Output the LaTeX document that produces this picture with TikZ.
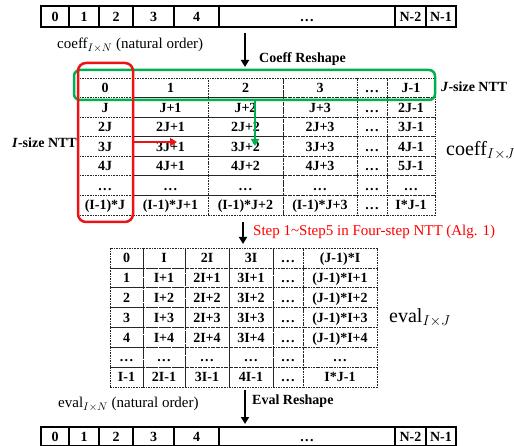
\documentclass[tikz,border=0pt]{standalone}
\usepackage{fontspec}
\setmainfont{Liberation Serif}
\usetikzlibrary{arrows.meta}
\definecolor{nttgreen}{RGB}{0,176,80}
\definecolor{nttred}{RGB}{235,20,20}
% baseline ellipsis
\newcommand{\dts}{.\kern1.3pt.\kern1.3pt.}
% one rectangular cell: style, name, left, right, top, bottom, text
\newcommand{\mkcell}[7]{%
  \node[#1, minimum width={(#4-#3)*1pt}, minimum height={(#6-#5)*1pt}]
    (#2) at ({(#3+#4)/2},{(#5+#6)/2}) {#7};}
\begin{document}
\begin{tikzpicture}[x=1pt,y=-1pt,
  arrcell/.style={draw, line width=1.4pt, inner sep=0pt,
    text height=9.5pt, text depth=0pt,
    font=\fontsize{14}{14}\selectfont\bfseries},
  gridcell/.style={draw=black!85, dash pattern=on 1.6pt off 1pt,
    line width=0.7pt, inner sep=0pt,
    text height=9.5pt, text depth=0pt,
    font=\fontsize{14}{14}\selectfont\bfseries},
  flow/.style={line width=2pt, -{Triangle[length=7pt,width=8pt]}},
  lbl/.style={inner sep=0pt, font=\fontsize{15}{15}\selectfont},
  tag/.style={inner sep=0pt, font=\fontsize{14}{14}\selectfont\bfseries},
  big/.style={inner sep=0pt, font=\fontsize{20}{20}\selectfont},
]
\useasboundingbox (0,0) rectangle (514,446);

% linear input array
\foreach \xl/\xr/\t [count=\i] in {41/69/0,69/99/1,99/133/2,133/174/3,
    174/219/4,219/395/\dts,395/426/N-2,426/456/N-1}
  \mkcell{arrcell}{top\i}{\xl}{\xr}{6}{27}{\t};

% linear output array
\foreach \xl/\xr/\t [count=\i] in {41/69/0,69/99/1,99/133/2,133/174/3,
    174/219/4,219/395/\dts,395/426/N-2,426/456/N-1}
  \mkcell{arrcell}{bot\i}{\xl}{\xr}{427}{445.5}{\t};

% coefficient matrix I x J
\def\cxA{{77,133,208,283,357,387,435}}
\foreach \r/\row in {
    0/{0,1,2,3,\dts,J-1},
    1/{J,J+1,J+2,J+3,\dts,2J-1},
    2/{2J,2J+1,2J+2,2J+3,\dts,3J-1},
    3/{3J,3J+1,3J+2,3J+3,\dts,4J-1},
    4/{4J,4J+1,4J+2,4J+3,\dts,5J-1},
    5/{\dts,\dts,\dts,\dts,\dts,\dts},
    6/{(I-1)*J,(I-1)*J+1,(I-1)*J+2,(I-1)*J+3,\dts,I*J-1}}{
  \foreach \t [count=\c from 0] in \row {
    \pgfmathsetmacro\xl{\cxA[\c]}
    \pgfmathsetmacro\xr{\cxA[\c+1]}
    \pgfmathsetmacro\yt{78+\r*19.57}
    \pgfmathsetmacro\yb{\yt+19.57}
    \mkcell{gridcell}{A-\r-\c}{\xl}{\xr}{\yt}{\yb}{\t}
  }
}

% evaluation matrix I x J
\def\cxB{{110,143,185,229,273,303,377}}
\foreach \r/\row in {
    0/{0,I,2I,3I,\dts,(J-1)*I},
    1/{1,I+1,2I+1,3I+1,\dts,(J-1)*I+1},
    2/{2,I+2,2I+2,3I+2,\dts,(J-1)*I+2},
    3/{3,I+3,2I+3,3I+3,\dts,(J-1)*I+3},
    4/{4,I+4,2I+4,3I+4,\dts,(J-1)*I+4},
    5/{\dts,\dts,\dts,\dts,\dts,\dts},
    6/{I-1,2I-1,3I-1,4I-1,\dts,I*J-1}}{
  \foreach \t [count=\c from 0] in \row {
    \pgfmathsetmacro\xl{\cxB[\c]}
    \pgfmathsetmacro\xr{\cxB[\c+1]}
    \pgfmathsetmacro\yt{248+\r*19.86}
    \pgfmathsetmacro\yb{\yt+19.86}
    \mkcell{gridcell}{B-\r-\c}{\xl}{\xr}{\yt}{\yb}{\t}
  }
}

% NTT groupings
\node[draw=nttgreen, line width=2.5pt, rounded corners=6pt, inner sep=0pt,
  minimum width=361pt, minimum height=30pt] (jbox) at (254.5,85) {};
\node[draw=nttred, line width=2.5pt, rounded corners=8pt, inner sep=0pt,
  minimum width=55pt, minimum height=159pt] (ibox) at (105.5,142.5) {};
\coordinate (gs) at (255,100);
\coordinate (ge) at (255,146);
\draw[nttgreen, line width=2.5pt, -{Triangle[length=7pt,width=8pt]}] (gs) -- (ge);
\coordinate (rs) at (133,142);
\coordinate (re) at (177,142);
\draw[nttred, line width=2.5pt, -{Triangle[length=7pt,width=8pt]}] (rs) -- (re);

% flow arrows
\coordinate (f1s) at (245,33);
\coordinate (f1e) at (245,67);
\draw[flow] (f1s) -- (f1e);
\coordinate (f2s) at (243,222);
\coordinate (f2e) at (243,244);
\draw[flow] (f2s) -- (f2e);
\coordinate (f3s) at (245,390);
\coordinate (f3e) at (245,424);
\draw[flow] (f3s) -- (f3e);

% labels
\node[lbl, anchor=west] (coeffN) at (57,45) {coeff$_{I\times N}$ (natural order)};
\node[tag, anchor=west] (cresh) at (259,59) {Coeff Reshape};
\node[tag, anchor=east] (isize) at (77,143) {\textit{I}-size NTT};
\node[tag, anchor=west] (jsize) at (441,87) {\textit{J}-size NTT};
\node[big, anchor=west] (coeffIJ) at (446,151) {coeff$_{I\times J}$};
\node[lbl, anchor=west, text=red] (steps) at (253,232) {Step 1\textasciitilde Step5 in Four-step NTT (Alg. 1)};
\node[big, anchor=west] (evalIJ) at (389,318) {eval$_{I\times J}$};
\node[tag, anchor=west] (eresh) at (252,401) {Eval Reshape};
\node[lbl, anchor=west] (evalN) at (58,404) {eval$_{I\times N}$ (natural order)};
\end{tikzpicture}
\end{document}
